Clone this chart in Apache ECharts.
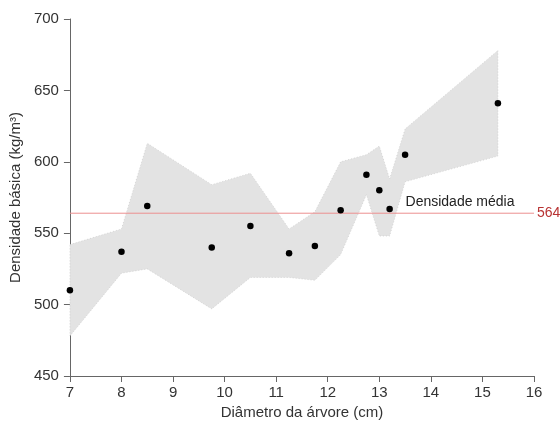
<!DOCTYPE html>
<html>
<head>
<meta charset="utf-8">
<script src="https://cdn.jsdelivr.net/npm/echarts@6/dist/echarts.min.js"></script>
<style>html,body{margin:0;padding:0;background:#fff}#c{width:560px;height:425px}</style>
</head>
<body>
<div id="c"></div>
<script>
// Data
const diameters = [7, 8, 8.5, 9.75, 10.5, 11.25, 11.75, 12.25, 12.75, 13, 13.2, 13.5, 15.3];
const density   = [510, 537, 569, 540, 555, 536, 541, 566, 591, 580, 567, 605, 641];
const bandUpper = [542, 553, 613, 584, 592, 553, 565, 600, 605, 611, 588, 623, 678];
const bandLower = [478, 522, 525, 497, 519, 519, 517, 535, 577, 548, 548, 586, 604];
const meanDensity = 564;
const meanLabel = 'Densidade média';
const xTicks = [7, 8, 9, 10, 11, 12, 13, 14, 15, 16];
const yTicks = [450, 500, 550, 600, 650, 700];

const FONT = 'Liberation Sans, Arial, sans-serif';
const chart = echarts.init(document.getElementById('c'));
const xMin = xTicks[0], xMax = xTicks[xTicks.length - 1];
const option = {
  animation: false,
  backgroundColor: '#fff',
  grid: {left: 68, right: 26, top: 19, bottom: 49},
  xAxis: {
    type: 'value', min: xMin, max: xMax, interval: 1,
    name: 'Diâmetro da árvore (cm)', nameLocation: 'middle', nameGap: 28,
    nameTextStyle: {fontFamily: FONT, fontSize: 15, color: '#333'},
    axisLine: {lineStyle: {color: '#666', width: 1}},
    axisTick: {show: true, length: 6, lineStyle: {color: '#666'}},
    axisLabel: {fontFamily: FONT, fontSize: 15, color: '#333', margin: 9},
    splitLine: {show: false}
  },
  yAxis: {
    type: 'value', min: yTicks[0], max: yTicks[yTicks.length-1], interval: 50,
    name: 'Densidade básica (kg/m³)', nameLocation: 'middle', nameGap: 46,
    nameTextStyle: {fontFamily: FONT, fontSize: 15, color: '#333'},
    axisLine: {show: true, lineStyle: {color: '#666', width: 1}},
    axisTick: {show: true, length: 6, lineStyle: {color: '#666'}},
    axisLabel: {fontFamily: FONT, fontSize: 15, color: '#333', margin: 11},
    splitLine: {show: false}
  },
  series: [
    {
      type: 'custom',
      silent: true,
      data: [[diameters[0], bandLower[0]]],
      encode: {x: 0, y: 1},
      z: 1,
      renderItem: function (params, api) {
        const pts = [];
        for (let i = 0; i < diameters.length; i++) pts.push(api.coord([diameters[i], bandUpper[i]]));
        for (let i = diameters.length - 1; i >= 0; i--) pts.push(api.coord([diameters[i], bandLower[i]]));
        return {
          type: 'polygon',
          shape: {points: pts},
          style: {fill: '#e3e3e3', stroke: '#c4c4c4', lineWidth: 0.6, lineDash: [1, 2]}
        };
      }
    },
    {
      type: 'line',
      silent: true,
      data: [[xMin, meanDensity], [xMax, meanDensity]],
      symbol: 'none',
      z: 2,
      lineStyle: {color: '#ec9090', width: 1},
      itemStyle: {color: '#ec9090'},
      endLabel: {show: true, formatter: String(meanDensity), color: '#b83232',
        fontFamily: FONT, fontSize: 14, distance: 3},
      markPoint: {
        silent: true,
        symbol: 'circle',
        symbolSize: 1,
        itemStyle: {color: 'rgba(0,0,0,0)'},
        data: [{coord: [xMax, meanDensity]}],
        label: {show: true, formatter: meanLabel, position: 'left', distance: 19,
          offset: [0, -11], color: '#222', fontFamily: FONT, fontSize: 14}
      }
    },
    {
      type: 'scatter',
      data: diameters.map((d, i) => [d, density[i]]),
      symbolSize: 6.5,
      itemStyle: {color: '#000', opacity: 1},
      z: 3
    }
  ]
};
chart.setOption(option);
</script>
</body>
</html>
